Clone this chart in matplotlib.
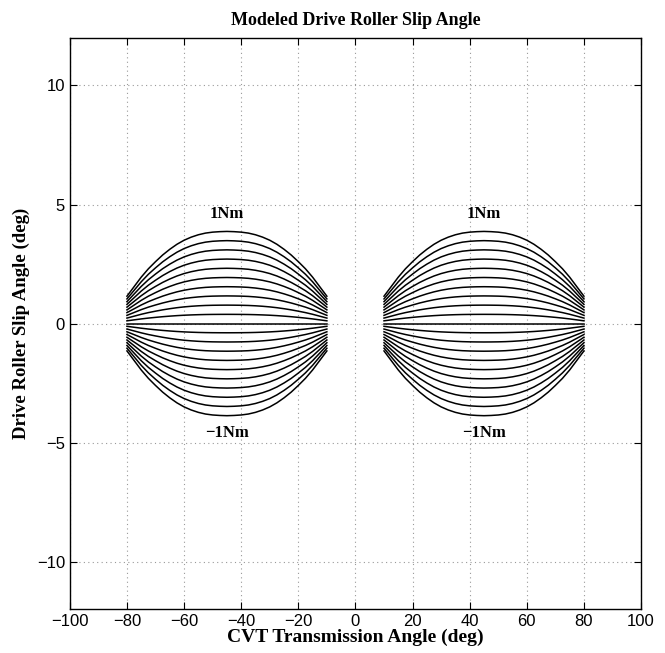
import numpy as np
import matplotlib
matplotlib.use("Agg")
import matplotlib.pyplot as plt

# slip angle (deg) for 1 Nm, from the ends (35 deg
# away from the peak) in to the peak at +/-45 deg, every 2.5 deg
unit_half = [1.15, 1.55, 1.95, 2.30, 2.60, 2.88, 3.12, 3.33,
             3.50, 3.63, 3.73, 3.80, 3.84, 3.86, 3.87]
unit_shape = unit_half + unit_half[-2::-1]
left_angles = np.linspace(-80, -10, len(unit_shape))
right_angles = np.linspace(10, 80, len(unit_shape))

# drive torques (Nm), -1 to 1 in 0.1 steps
torques = [-1.0, -0.9, -0.8, -0.7, -0.6, -0.5, -0.4, -0.3, -0.2, -0.1, 0.0,
           0.1, 0.2, 0.3, 0.4, 0.5, 0.6, 0.7, 0.8, 0.9, 1.0]

xticks = [-100, -80, -60, -40, -20, 0, 20, 40, 60, 80, 100]
yticks = [-10, -5, 0, 5, 10]

serif = ["Liberation Serif", "DejaVu Serif"]
sans = ["Liberation Sans", "DejaVu Sans"]

fig = plt.figure(figsize=(6.65, 6.53), dpi=100)
ax = fig.add_axes([0.105, 0.067, 0.859, 0.875])

shape = np.array(unit_shape)
for t in torques:
    ax.plot(left_angles, t * shape, color="black", lw=1.1)
    ax.plot(right_angles, t * shape, color="black", lw=1.1)

for xc in (-45, 45):
    ax.text(xc, 4.25, "1Nm", ha="center", va="bottom", fontsize=12,
            fontweight="bold", family=serif)
    ax.text(xc, -4.25, "\u22121Nm", ha="center", va="top", fontsize=12,
            fontweight="bold", family=serif)

ax.set_xlim(-100, 100)
ax.set_ylim(-12, 12)
ax.set_xticks(xticks)
ax.set_yticks(yticks)
ax.grid(True, color="#999999", linestyle=(0, (1, 3)), lw=0.8)
ax.tick_params(direction="in", top=True, right=True, length=5,
               labelsize=12, width=0.8)
for lbl in ax.get_xticklabels() + ax.get_yticklabels():
    lbl.set_family(sans)
for sp in ax.spines.values():
    sp.set_linewidth(1.0)

ax.set_title("Modeled Drive Roller Slip Angle", fontsize=13,
             fontweight="bold", family=serif, pad=9)
ax.set_xlabel("CVT Transmission Angle (deg)", fontsize=14,
              fontweight="bold", family=serif, labelpad=0)
ax.set_ylabel("Drive Roller Slip Angle (deg)", fontsize=13.5,
              fontweight="bold", family=serif, labelpad=5)

fig.savefig("out.png", dpi=100)
